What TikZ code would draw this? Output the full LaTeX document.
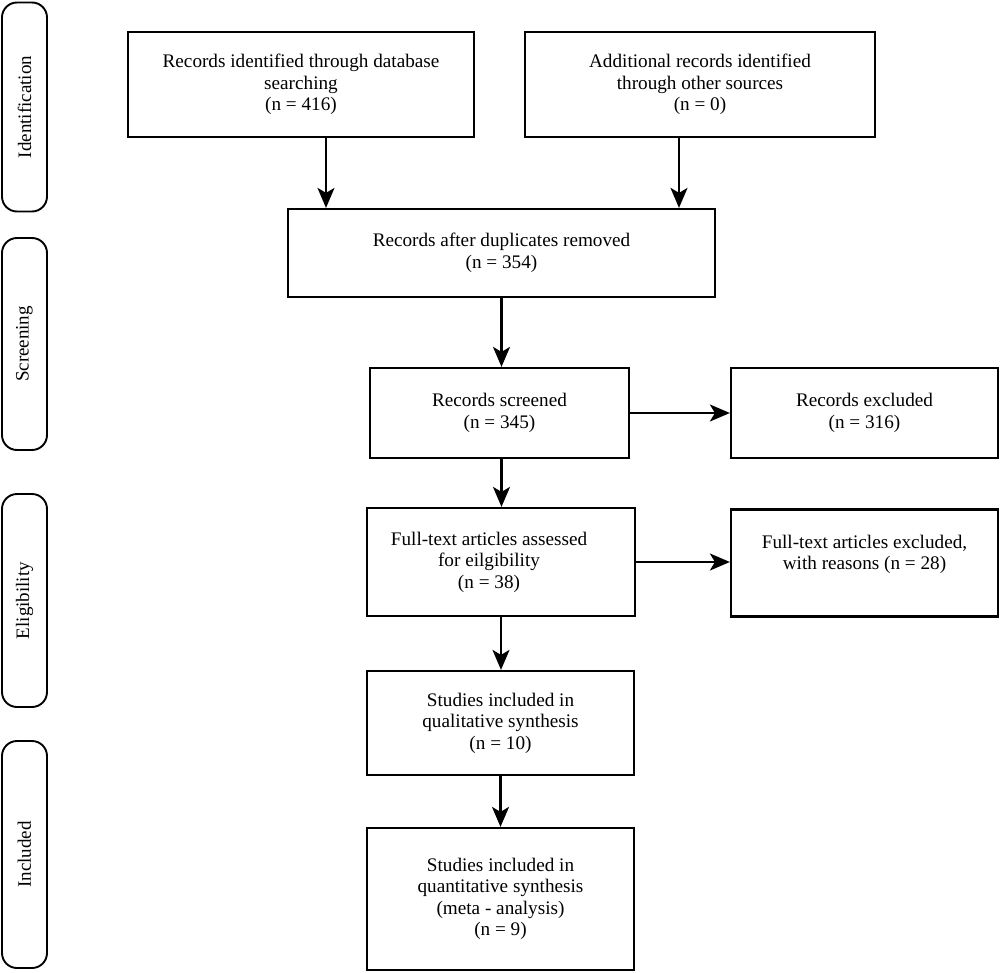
\documentclass[tikz,border=0pt]{standalone}
\usepackage{fontspec}
\setmainfont{Liberation Serif}
\usetikzlibrary{arrows.meta}
\tikzset{
  box/.style={draw, line width=2.2pt, rectangle, align=center, inner sep=0pt,
    font=\fontsize{19.2}{21.5}\selectfont},
  txt/.style={align=center, inner sep=0pt, font=\fontsize{19.2}{21.5}\selectfont},
  phase/.style={draw, line width=1.9pt, rectangle, rounded corners=15pt,
    minimum width=45pt, inner sep=0pt},
  phasetxt/.style={rotate=90, inner sep=0pt, font=\fontsize{19}{20}\selectfont},
  arr/.style={line width=2.2pt, -{Stealth[length=20pt, width=17pt, inset=5pt]}}
}
\begin{document}
\begin{tikzpicture}[x=1pt, y=-1pt]
\useasboundingbox (0,0) rectangle (1000,973);
% phase labels
\node[phase, minimum height=209pt] (pi) at (24.5,107) {};
\node[phasetxt] (piT) at (pi.center) {Identification};
\node[phase, minimum height=212pt] (ps) at (24.5,344) {};
\node[phasetxt] (psT) at (ps.center) {Screening};
\node[phase, minimum height=213pt] (pe) at (24.5,600.5) {};
\node[phasetxt] (peT) at (pe.center) {Eligibility};
\node[phase, minimum height=227pt] (pn) at (24.5,854.5) {};
\node[phasetxt] (pnT) at (pn.center) {Included};
% boxes
\node[box, minimum width=346pt, minimum height=105pt] (a) at (301,84.5)
  {Records identified through database\\searching\\(n = 416)};
\node[box, minimum width=350pt, minimum height=105pt] (b) at (700,84.5)
  {Additional records identified\\through other sources\\(n = 0)};
\node[box, minimum width=427pt, minimum height=88pt] (c) at (501.5,253)
  {Records after duplicates removed\\(n = 354)};
\node[box, minimum width=259pt, minimum height=90pt] (d) at (499.5,413)
  {Records screened\\(n = 345)};
\node[box, minimum width=267pt, minimum height=90pt] (dx) at (864.5,413)
  {Records excluded\\(n = 316)};
\node[box, minimum width=268pt, minimum height=108pt] (e) at (501,562) {};
\node[txt] (eT) at ([xshift=-12pt]e.center)
  {Full-text articles assessed\\for eilgibility\\(n = 38)};
\node[box, minimum width=267pt, minimum height=107pt] (ex) at (864.5,563)
  {Full-text articles excluded,\\with reasons (n = 28)\\\mbox{}};
\node[box, minimum width=267pt, minimum height=104pt] (f) at (500.5,723)
  {Studies included in\\qualitative synthesis\\(n = 10)};
\node[box, minimum width=267pt, minimum height=142pt] (g) at (500.5,899)
  {Studies included in\\quantitative synthesis\\(meta - analysis)\\(n = 9)};
% connectors
\draw[arr] ([xshift=25pt]a.south) -- ([xshift=25pt]a.south |- c.north);
\draw[arr] ([xshift=-21pt]b.south) -- ([xshift=-21pt]b.south |- c.north);
\draw[arr] (c.south) -- (c.south |- d.north);
\draw[arr] ([xshift=2pt]d.south) -- ([xshift=2pt]d.south |- e.north);
\draw[arr] (d.east) -- (dx.west);
\draw[arr] (e.east) -- (e.east -| ex.west);
\draw[arr] (e.south) -- (e.south |- f.north);
\draw[arr] (f.south) -- (g.north);
\end{tikzpicture}
\end{document}
